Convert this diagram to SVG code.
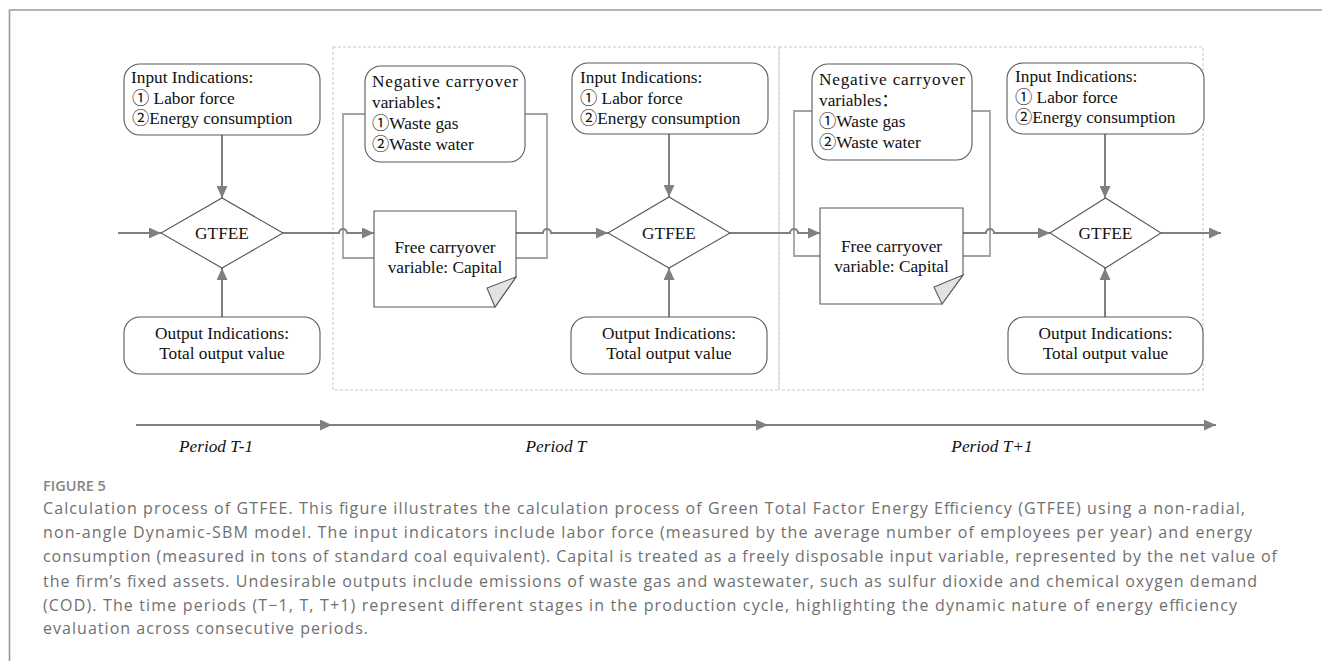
<svg xmlns="http://www.w3.org/2000/svg" width="1322" height="661" viewBox="0 0 1322 661">
<defs>
<style>
.frame{fill:none;stroke:#9a9a9a;stroke-width:1.6}
.dash{fill:none;stroke:#c8c8c8;stroke-width:1;stroke-dasharray:3 2}
.box{fill:#fff;stroke:#5a5a5a;stroke-width:1.1}
.fold{fill:#e2e2e2;stroke:#5a5a5a;stroke-width:1.1}
.con{fill:none;stroke:#808080;stroke-width:2}
.loop{fill:none;stroke:#a3a3a3;stroke-width:1.8}
.t{font-family:"Liberation Serif","Noto Sans CJK SC",serif;font-size:17.3px;fill:#111}
.c{text-anchor:middle}
.it{font-style:italic}
.cap{font-family:"Open Sans","Liberation Sans",sans-serif;font-size:16px;fill:#707070}
.fig{font-family:"Open Sans","Liberation Sans",sans-serif;font-size:14.5px;font-weight:600;fill:#858585}
</style>
<marker id="ah" viewBox="0 0 12 11" refX="12" refY="5.5" markerWidth="12" markerHeight="11" markerUnits="userSpaceOnUse" orient="auto">
<path d="M0,0 L12,5.5 L0,11 Z" fill="#808080"/>
</marker>
</defs>
<rect width="1322" height="661" fill="#fff"/>
<path class="frame" d="M9.5,661 V10 H1322"/>
<g id="periods-frames">
<rect class="dash" x="333" y="47" width="446" height="343"/>
<rect class="dash" x="779" y="47" width="424" height="343"/>
</g>
<g id="connectors">
<path class="loop" d="M365,114 H343 V258 H374"/>
<path class="loop" d="M525,114 H547 V258 H516"/>
<path class="loop" d="M812,111 H794 V256 H820"/>
<path class="loop" d="M972,111 H990 V256 H963"/>
<path class="con" marker-end="url(#ah)" d="M118,233 H161"/>
<path class="con" marker-end="url(#ah)" d="M283,233 H339 A4,4 0 0 1 347,233 H374"/>
<path class="con" marker-end="url(#ah)" d="M516,233 H543 A4,4 0 0 1 551,233 H608"/>
<path class="con" marker-end="url(#ah)" d="M730,233 H790 A4,4 0 0 1 798,233 H820"/>
<path class="con" marker-end="url(#ah)" d="M963,233 H986 A4,4 0 0 1 994,233 H1050"/>
<path class="con" marker-end="url(#ah)" d="M1161,233 H1221"/>
<path class="con" marker-end="url(#ah)" d="M222,135 V198"/>
<path class="con" marker-end="url(#ah)" d="M222,317 V268"/>
<path class="con" marker-end="url(#ah)" d="M669,134 V197"/>
<path class="con" marker-end="url(#ah)" d="M669,317 V268"/>
<path class="con" marker-end="url(#ah)" d="M1105,134 V198"/>
<path class="con" marker-end="url(#ah)" d="M1105,317 V268"/>
<path class="con" marker-end="url(#ah)" d="M136,425 H332"/>
<path class="con" marker-end="url(#ah)" d="M332,425 H768"/>
<path class="con" marker-end="url(#ah)" d="M768,425 H1216"/>
</g>
<g id="input1">
<rect class="box" x="124" y="64" width="196" height="71" rx="16"/>
<text class="t" x="131" y="83">Input Indications:</text>
<text class="t" x="132" y="104">① Labor force</text>
<text class="t" x="132" y="124">②Energy consumption</text>
</g>
<g id="gtfee1">
<path class="box" d="M161,233 L222,198 L283,233 L222,268 Z"/>
<text class="t c" x="222" y="239">GTFEE</text>
</g>
<g id="output1">
<rect class="box" x="124" y="317" width="196" height="57" rx="16"/>
<text class="t c" x="222" y="339">Output Indications:</text>
<text class="t c" x="222" y="359">Total output value</text>
</g>
<g id="negative1">
<rect class="box" x="365" y="66" width="160" height="96" rx="16"/>
<text class="t" x="372" y="87" textLength="146" lengthAdjust="spacing">Negative carryover</text>
<text class="t" x="372" y="108">variables：</text>
<text class="t" x="372" y="129">①Waste gas</text>
<text class="t" x="372" y="150">②Waste water</text>
</g>
<g id="free1">
<path class="box" d="M374,211 H516 V277 L495,307 H374 Z"/>
<path class="fold" d="M516,277 L487,288 L495,307 Z"/>
<text class="t c" x="445" y="253">Free carryover</text>
<text class="t c" x="445" y="273">variable: Capital</text>
</g>
<g id="input2">
<rect class="box" x="572" y="63" width="196" height="71" rx="16"/>
<text class="t" x="580" y="83">Input Indications:</text>
<text class="t" x="580" y="104">① Labor force</text>
<text class="t" x="580" y="124">②Energy consumption</text>
</g>
<g id="gtfee2">
<path class="box" d="M608,233 L669,197 L730,233 L669,268 Z"/>
<text class="t c" x="669" y="239">GTFEE</text>
</g>
<g id="output2">
<rect class="box" x="571" y="317" width="196" height="57" rx="16"/>
<text class="t c" x="669" y="339">Output Indications:</text>
<text class="t c" x="669" y="359">Total output value</text>
</g>
<g id="negative2">
<rect class="box" x="812" y="64" width="160" height="96" rx="16"/>
<text class="t" x="819" y="85" textLength="146" lengthAdjust="spacing">Negative carryover</text>
<text class="t" x="819" y="106">variables：</text>
<text class="t" x="819" y="127">①Waste gas</text>
<text class="t" x="819" y="148">②Waste water</text>
</g>
<g id="free2">
<path class="box" d="M820,208 H963 V275 L942,304 H820 Z"/>
<path class="fold" d="M963,275 L934,287 L942,304 Z"/>
<text class="t c" x="891.5" y="252">Free carryover</text>
<text class="t c" x="891.5" y="272">variable: Capital</text>
</g>
<g id="input3">
<rect class="box" x="1007" y="63" width="197" height="71" rx="16"/>
<text class="t" x="1015" y="82">Input Indications:</text>
<text class="t" x="1015" y="103">① Labor force</text>
<text class="t" x="1015" y="123">②Energy consumption</text>
</g>
<g id="gtfee3">
<path class="box" d="M1050,233 L1105.5,198 L1161,233 L1105.5,268 Z"/>
<text class="t c" x="1105.5" y="239">GTFEE</text>
</g>
<g id="output3">
<rect class="box" x="1008" y="317" width="195" height="57" rx="16"/>
<text class="t c" x="1105.5" y="339">Output Indications:</text>
<text class="t c" x="1105.5" y="359">Total output value</text>
</g>
<g id="period-labels">
<text class="t c it" x="216" y="452">Period T-1</text>
<text class="t c it" x="556" y="452">Period T</text>
<text class="t c it" x="992" y="452">Period T+1</text>
</g>
<g id="caption">
<text class="fig" x="43" y="491">FIGURE 5</text>
<text class="cap" x="43" y="514" textLength="1202" lengthAdjust="spacing">Calculation process of GTFEE. This figure illustrates the calculation process of Green Total Factor Energy Efficiency (GTFEE) using a non-radial,</text>
<text class="cap" x="43" y="538" textLength="1209" lengthAdjust="spacing">non-angle Dynamic-SBM model. The input indicators include labor force (measured by the average number of employees per year) and energy</text>
<text class="cap" x="43" y="562" textLength="1234" lengthAdjust="spacing">consumption (measured in tons of standard coal equivalent). Capital is treated as a freely disposable input variable, represented by the net value of</text>
<text class="cap" x="43" y="587" textLength="1214" lengthAdjust="spacing">the firm’s fixed assets. Undesirable outputs include emissions of waste gas and wastewater, such as sulfur dioxide and chemical oxygen demand</text>
<text class="cap" x="43" y="611" textLength="1194" lengthAdjust="spacing">(COD). The time periods (T−1, T, T+1) represent different stages in the production cycle, highlighting the dynamic nature of energy efficiency</text>
<text class="cap" x="43" y="634" textLength="325" lengthAdjust="spacing">evaluation across consecutive periods.</text>
</g>
</svg>
